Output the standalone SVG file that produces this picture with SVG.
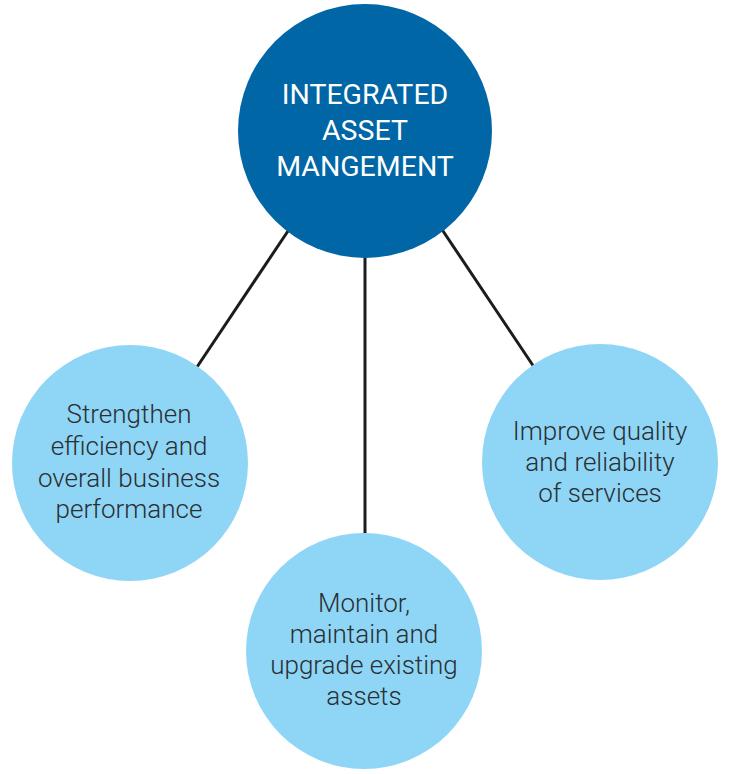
<svg xmlns="http://www.w3.org/2000/svg" width="749" height="774" viewBox="0 0 749 774">
<style>
.conn{stroke:#1c1c1c;stroke-width:3;fill:none}
.main{fill:#0066a6}
.sub{fill:#8fd6f6}
.mt{font-family:Roboto,"Liberation Sans",sans-serif;font-size:28.5px;fill:#ffffff;text-anchor:middle}
.st{font-family:Roboto,"Liberation Sans",sans-serif;font-weight:300;font-size:26px;fill:#2a2f33;text-anchor:middle}
</style>
<rect width="749" height="774" fill="#ffffff"/>
<g id="connectors">
<line class="conn" x1="290" y1="228" x2="197" y2="367"/>
<line class="conn" x1="365" y1="250" x2="365" y2="535"/>
<line class="conn" x1="441" y1="228" x2="534" y2="367"/>
</g>
<g id="node-main">
<circle class="main" cx="365" cy="131" r="127"/>
<text class="mt" x="365" y="104">INTEGRATED</text>
<text class="mt" x="365" y="140">ASSET</text>
<text class="mt" x="365" y="176">MANGEMENT</text>
</g>
<g id="node-left">
<circle class="sub" cx="130" cy="463" r="118"/>
<text class="st" x="129" y="423">Strengthen</text>
<text class="st" x="129" y="455">efficiency and</text>
<text class="st" x="129" y="487">overall business</text>
<text class="st" x="129" y="518">performance</text>
</g>
<g id="node-right">
<circle class="sub" cx="600" cy="462" r="118"/>
<text class="st" x="600" y="440">Improve quality</text>
<text class="st" x="600" y="471">and reliability</text>
<text class="st" x="600" y="502">of services</text>
</g>
<g id="node-bottom">
<circle class="sub" cx="364" cy="651" r="118"/>
<text class="st" x="364" y="612">Monitor,</text>
<text class="st" x="364" y="643">maintain and</text>
<text class="st" x="364" y="674">upgrade existing</text>
<text class="st" x="364" y="705">assets</text>
</g>
</svg>
